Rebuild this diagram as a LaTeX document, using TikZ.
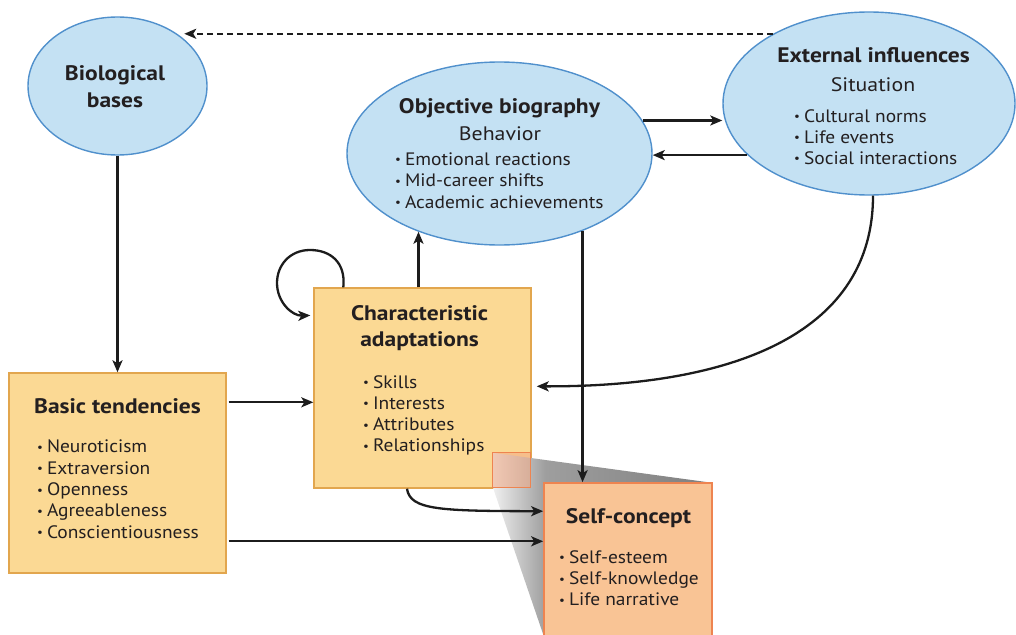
\documentclass[tikz,border=0pt]{standalone}
\usepackage{fontspec}
\setmainfont{PT Sans}
\newfontfamily\headfont{PT Sans}[FakeStretch=1.12]
\newfontfamily\itemfont{PT Sans}[FakeStretch=1.08]
\usetikzlibrary{arrows.meta,shapes.geometric}
\definecolor{ellfill}{HTML}{C4E1F3}
\definecolor{elldraw}{HTML}{5090CC}
\definecolor{boxfill}{HTML}{FBD994}
\definecolor{boxdraw}{HTML}{E2A64E}
\definecolor{selffill}{HTML}{F9C495}
\definecolor{selfdraw}{HTML}{EE8450}
\definecolor{arrcol}{HTML}{1C1C1C}
\definecolor{txtcol}{HTML}{231F20}
\pgfdeclarehorizontalshading{zoomshade}{100bp}{color(0bp)=(black!6); color(25bp)=(black!6); color(37bp)=(black!38); color(75bp)=(black!50); color(100bp)=(black!50)}
\newcommand{\bulletmark}{{\fontsize{12}{12}\selectfont\raisebox{0.12em}{\textbullet}}\hspace{0.22em}}
\begin{document}
\begin{tikzpicture}[x=1pt,y=-1pt,
  ell/.style={ellipse,draw=elldraw,fill=ellfill,line width=1.4pt,inner sep=0pt},
  tbox/.style={rectangle,draw=boxdraw,fill=boxfill,line width=1.4pt,inner sep=0pt},
  sbox/.style={rectangle,draw=selfdraw,fill=selffill,line width=1.6pt,inner sep=0pt},
  head/.style={inner sep=0pt,anchor=base,text=txtcol,font=\headfont\fontsize{21}{24}\selectfont\bfseries},
  sub/.style={inner sep=0pt,anchor=base,text=txtcol,font=\headfont\fontsize{19.5}{22}\selectfont},
  item/.style={inner sep=0pt,anchor=base west,text=txtcol,font=\itemfont\fontsize{18}{20}\selectfont},
  arr/.style={draw=arrcol,line width=2.3pt,-{Stealth[length=12pt,width=10pt,inset=3pt]}},
  dasharr/.style={arr,dash pattern=on 6pt off 4pt}]
\useasboundingbox (0,0) rectangle (1016,634);
\clip (0,0) rectangle (1016,634);

% ellipses
\node[ell,minimum width=179pt,minimum height=138pt] (bio) at (117.5,86) {};
\node[ell,minimum width=305pt,minimum height=183pt] (ob) at (499.5,153.5) {};
\node[ell,minimum width=292pt,minimum height=183pt] (ext) at (869,103.5) {};

% boxes
\node[tbox,minimum width=217pt,minimum height=200pt] (bt) at (117.5,473) {};
\node[tbox,minimum width=217pt,minimum height=200pt] (ca) at (422.5,388) {};
\node[inner sep=0pt,minimum width=37pt,minimum height=34pt] (sq) at (511.5,470) {};
\node[inner sep=0pt,minimum width=168pt,minimum height=153pt] (scpos) at (628,559.5) {};

% zoom shade
\path[shading=zoomshade] (sq.north west) -- (scpos.north east) -- (scpos.south east) -- (scpos.south west) -- (sq.south west) -- cycle;
\path[draw=selfdraw,line width=1.2pt,fill=selfdraw!70!white,fill opacity=0.55] (sq.north west) rectangle (sq.south east);
\node[sbox,minimum width=168pt,minimum height=153pt] (sc) at (628,559.5) {};

% texts
\node[head] (biot1) at (115,80) {Biological};
\node[head] (biot2) at (115,107) {bases};

\node[head] (obt) at (499.5,113) {Objective biography};
\node[sub] (obs) at (500,140) {Behavior};
\foreach \txt [count=\i] in {Emotional reactions,Mid-career shifts,Academic achievements}
  \node[item] (obi\i) at (395,{165+21.5*(\i-1)}) {\bulletmark\txt};

\node[head] (extt) at (873.5,63) {External influences};
\node[sub] (exts) at (873,91) {Situation};
\foreach \txt [count=\i] in {Cultural norms,Life events,Social interactions}
  \node[item] (exti\i) at (794,{122+21*(\i-1)}) {\bulletmark\txt};

\node[head] (btt) at (117.5,413) {Basic tendencies};
\foreach \txt [count=\i] in {Neuroticism,Extraversion,Openness,Agreeableness,Conscientiousness}
  \node[item] (bti\i) at (37,{452.7+21.4*(\i-1)}) {\bulletmark\txt};

\node[head] (cat1) at (419.5,320) {Characteristic};
\node[head] (cat2) at (419.5,346) {adaptations};
\foreach \txt [count=\i] in {Skills,Interests,Attributes,Relationships}
  \node[item] (cai\i) at (363,{388+21.3*(\i-1)}) {\bulletmark\txt};

\node[head] (sct) at (628.5,523) {Self-concept};
\foreach \txt [count=\i] in {Self-esteem,Self-knowledge,Life narrative}
  \node[item] (sci\i) at (559,{563.3+21.3*(\i-1)}) {\bulletmark\txt};

% connectors
\draw[dasharr,shorten >=8pt] (ext.144) -- (bio.42 |- ext.144);
\draw[arr] (bio.south) -- (bt.north);
\draw[arr,shorten <=2pt] ([yshift=-30pt]bt.north east) -- ([yshift=-30pt]bt.north east -| ca.west);
\draw[arr,shorten <=2pt] ([yshift=-169pt]bt.north east) -- ([yshift=-169pt]bt.north east -| sc.west);
\draw[arr] (ob.224 |- ca.north) -- (ob.224);
\draw[arr] (ob.-43) -- (ob.-43 |- sc.north);
\draw[arr] (ob.13) -- (ob.13 -| ext.west);
\draw[arr] (ext.203) -- (ext.203 -| ob.east);
\draw[arr,shorten >=5pt] ([xshift=4pt]ext.south) .. controls (873,330) and (740,387) .. ([yshift=-99pt]ca.north east);
\draw[arr] ([xshift=-15.5pt]ca.south) .. controls (410,510) and (440,511) .. ([yshift=-29pt]sc.north west);
\draw[arr,shorten >=3pt] ([xshift=30pt]ca.north west) .. controls (346,262) and (330,250) .. (310,250)
  .. controls (290,250) and (277,265) .. (277,283) .. controls (277,302) and (292,316) .. ([yshift=-28pt]ca.north west);
\end{tikzpicture}
\end{document}
